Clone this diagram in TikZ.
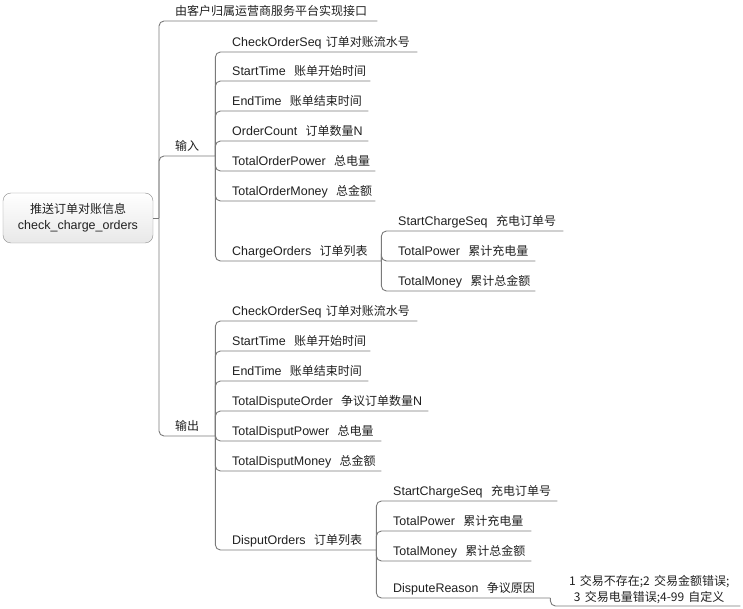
\documentclass[tikz,border=0pt]{standalone}
\usepackage{fontspec}
\setmainfont{Liberation Sans}[Scale=1.04]
\newfontfamily\cjk{Noto Sans CJK SC}
\usepackage{tikz}
\usetikzlibrary{positioning}
\definecolor{map-line}{HTML}{7A7A7A}
\definecolor{map-text}{HTML}{202020}
\definecolor{map-box}{HTML}{8C8C8C}

\begin{document}
\begin{tikzpicture}[x=1pt, y=-1pt,
    topic/.style={draw=map-box, rounded corners=8pt, top color=white, bottom color=black!9,
                  minimum width=150pt, minimum height=50pt, align=center,
                  font=\fontsize{12}{16}\selectfont, text=map-text},
    leaf/.style={anchor=south west, inner xsep=0pt, inner ysep=5pt, text depth=0pt,
                 text width=#1, align=left, font=\fontsize{12}{16}\selectfont, text=map-text},
    note/.style={anchor=south west, inner xsep=0pt, inner ysep=2pt, text width=#1,
                 align=center, font=\fontsize{12}{16}\selectfont, text=map-text},
    link/.style={draw=map-line, line width=0.9pt, rounded corners=5pt},
]
    \useasboundingbox (0,0) rectangle (743,609);

    % root
    \node[topic] (root) at (78,218) {{\cjk 推送订单对账信息}\\check\_charge\_orders};
    \coordinate (rj) at (159,218);
    \draw[link] (root.east) -- (rj);

    % first level
    \node[leaf=202pt] (top)  at (175,21)  {\cjk 由客户归属运营商服务平台实现接口};
    \node[leaf=40pt]  (inp)  at (175,156) {\cjk 输入};
    \node[leaf=40pt]  (outp) at (175,436) {\cjk 输出};
    \foreach \c in {top, inp, outp}
        \draw[link] (rj) |- (\c.south east);

    % input fields
    \node[leaf=185pt] (in-seq)    at (232,52)  {CheckOrderSeq {\cjk 订单对账流水号}};
    \node[leaf=138pt] (in-start)  at (232,81)  {StartTime\ \ {\cjk 账单开始时间}};
    \node[leaf=136pt] (in-end)    at (232,111) {EndTime\ \ {\cjk 账单结束时间}};
    \node[leaf=136pt] (in-count)  at (232,141) {OrderCount\ \ {\cjk 订单数量}N};
    \node[leaf=143pt] (in-power)  at (232,171) {TotalOrderPower\ \ {\cjk 总电量}};
    \node[leaf=143pt] (in-money)  at (232,201) {TotalOrderMoney\ \ {\cjk 总金额}};
    \node[leaf=149pt] (in-orders) at (232,261) {ChargeOrders\ \ {\cjk 订单列表}};
    \foreach \c in {in-seq, in-start, in-end, in-count, in-power, in-money, in-orders}
        \draw[link] (inp.south east) |- (\c.south east);

    \node[leaf=165pt] (co-seq)   at (398,231) {StartChargeSeq\ \ {\cjk 充电订单号}};
    \node[leaf=137pt] (co-power) at (398,261) {TotalPower\ \ {\cjk 累计充电量}};
    \node[leaf=137pt] (co-money) at (398,291) {TotalMoney\ \ {\cjk 累计总金额}};
    \foreach \c in {co-seq, co-power, co-money}
        \draw[link] (in-orders.south east) |- (\c.south east);

    % output fields
    \node[leaf=185pt] (out-seq)    at (232,321) {CheckOrderSeq {\cjk 订单对账流水号}};
    \node[leaf=138pt] (out-start)  at (232,351) {StartTime\ \ {\cjk 账单开始时间}};
    \node[leaf=136pt] (out-end)    at (232,381) {EndTime\ \ {\cjk 账单结束时间}};
    \node[leaf=196pt] (out-count)  at (232,411) {TotalDisputeOrder\ \ {\cjk 争议订单数量}N};
    \node[leaf=149pt] (out-power)  at (232,441) {TotalDisputPower\ \ {\cjk 总电量}};
    \node[leaf=149pt] (out-money)  at (232,471) {TotalDisputMoney\ \ {\cjk 总金额}};
    \node[leaf=144pt] (out-orders) at (232,550) {DisputOrders\ \ {\cjk 订单列表}};
    \foreach \c in {out-seq, out-start, out-end, out-count, out-power, out-money, out-orders}
        \draw[link] (outp.south east) |- (\c.south east);

    \node[leaf=164pt] (do-seq)    at (393,501) {StartChargeSeq\ \ {\cjk 充电订单号}};
    \node[leaf=138pt] (do-power)  at (393,531) {TotalPower\ \ {\cjk 累计充电量}};
    \node[leaf=138pt] (do-money)  at (393,561) {TotalMoney\ \ {\cjk 累计总金额}};
    \node[leaf=157pt] (do-reason) at (393,598) {DisputeReason\ \ {\cjk 争议原因}};
    \foreach \c in {do-seq, do-power, do-money, do-reason}
        \draw[link] (out-orders.south east) |- (\c.south east);

    \node[note=182pt] (reason) at (558,606)
        {\cjk 1 交易不存在;2 交易金额错误;\\3 交易电量错误;4-99 自定义};
    \draw[link] (do-reason.south east) |- (reason.south east);
\end{tikzpicture}
\end{document}
